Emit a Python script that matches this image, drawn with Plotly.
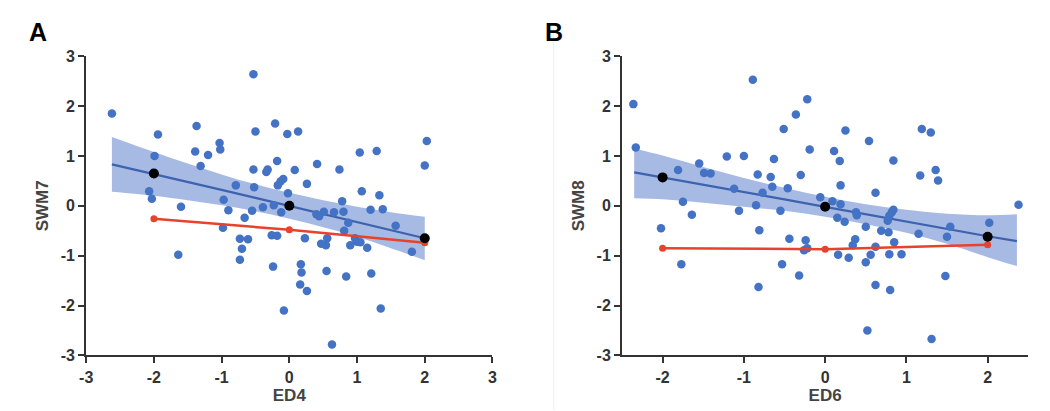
import plotly.graph_objects as go

# ---------------- Panel A data (ED4 vs SWM7) ----------------
a_x = [-2.62, -0.53, -1.94, -1.37, -1.99, -1.39, -1.20, -1.03, -1.02, -1.31,
       -0.50, -0.21, -0.03, 0.13, -0.18, -0.53, -0.34, -0.32, -0.09, -0.13,
       -0.17, -0.79, -0.52, -0.02, -2.07, -2.03, -0.97, -1.60, 2.03, 2.00,
       1.04, 1.29, 0.41, 0.08, 0.74, 0.26, 1.07, 1.33, 0.78, -0.90,
       -0.55, -0.39, -0.23, -0.12, -0.66, -0.98, -0.73, -0.61, -0.70, -0.73,
       -0.26, -0.18, -0.24, -1.64, -0.08, 0.40, 0.44, 0.51, 0.66, 0.80,
       1.20, 1.38, 0.87, 1.57, 0.81, 0.23, 0.56, 0.47, 0.54, 0.97,
       1.00, 1.05, 0.90, 1.15, 1.81, 0.17, 0.18, 0.16, 0.26, 0.55,
       0.84, 1.21, 1.35, 0.63]
a_y = [1.85, 2.64, 1.43, 1.60, 1.00, 1.09, 1.02, 1.26, 1.13, 0.80,
       1.49, 1.65, 1.44, 1.49, 0.90, 0.73, 0.68, 0.73, 0.54, 0.49,
       0.41, 0.41, 0.37, 0.25, 0.29, 0.14, 0.12, -0.02, 1.30, 0.81,
       1.07, 1.10, 0.84, 0.72, 0.73, 0.44, 0.29, 0.21, 0.09, -0.09,
       -0.10, -0.03, 0.01, -0.13, -0.24, -0.44, -0.66, -0.67, -0.86, -1.08,
       -0.59, -0.60, -1.22, -0.98, -2.10, -0.17, -0.21, -0.12, -0.13, -0.12,
       -0.08, -0.07, -0.34, -0.40, -0.50, -0.65, -0.65, -0.76, -0.79, -0.65,
       -0.72, -0.73, -0.79, -0.84, -0.92, -1.17, -1.34, -1.58, -1.71, -1.31,
       -1.42, -1.36, -2.06, -2.78]

a_band_x = [-2.62, -2.0, -1.5, -1.0, -0.5, 0.0, 0.5, 1.0, 1.5, 2.0]
a_fit = [0.83, 0.64, 0.48, 0.32, 0.16, 0.0, -0.16, -0.32, -0.49, -0.65]
a_upper = [1.38, 1.08, 0.85, 0.63, 0.43, 0.26, 0.11, -0.02, -0.13, -0.22]
a_lower = [0.28, 0.20, 0.11, 0.01, -0.11, -0.26, -0.43, -0.62, -0.85, -1.09]

a_key_x = [-2, 0, 2]
a_black = [0.65, 0.0, -0.65]
a_red = [-0.26, -0.48, -0.74]

# ---------------- Panel B data (ED6 vs SWM8) ----------------
b_x = [-2.36, -2.33, -0.89, -0.22, -0.36, -0.51, -0.19, -1.21, -1.00, -0.63,
       -1.55, -1.81, -1.49, -1.41, -0.83, -0.67, -0.30, -1.12, -0.65, -0.46,
       -0.77, -1.75, -0.85, 0.25, 1.19, 1.30, 0.54, 0.11, 0.18, 0.84,
       1.36, 1.17, 1.39, 0.19, 0.62, -0.06, 0.09, 0.19, 2.38, -1.64,
       -1.06, -0.55, -2.02, -0.81, -0.44, -0.24, -0.22, -0.26, -1.77, -0.53,
       -0.32, -0.82, 0.15, 0.24, 0.38, 0.39, 0.50, 0.69, 0.78, 0.77,
       0.79, 0.82, 0.84, 0.37, 0.34, 0.62, 0.85, 0.16, 0.29, 0.56,
       0.50, 0.79, 0.94, 1.15, 1.54, 1.50, 2.02, 1.48, 0.62, 0.80,
       0.52, 1.31]
b_y = [2.04, 1.17, 2.53, 2.14, 1.83, 1.54, 1.13, 0.99, 1.00, 0.94,
       0.85, 0.72, 0.66, 0.65, 0.63, 0.58, 0.62, 0.34, 0.38, 0.35,
       0.26, 0.08, 0.01, 1.51, 1.54, 1.47, 1.30, 1.10, 0.90, 0.91,
       0.72, 0.61, 0.51, 0.41, 0.26, 0.17, 0.09, 0.03, 0.02, -0.18,
       -0.10, -0.10, -0.45, -0.49, -0.66, -0.69, -0.85, -0.89, -1.17, -1.17,
       -1.40, -1.63, -0.24, -0.32, -0.13, -0.19, -0.42, -0.50, -0.53, -0.30,
       -0.20, -0.13, -0.08, -0.67, -0.79, -0.82, -0.73, -0.98, -1.04, -0.98,
       -1.13, -0.97, -0.97, -0.56, -0.42, -0.62, -0.34, -1.41, -1.59, -1.69,
       -2.50, -2.67]

b_band_x = [-2.35, -2.0, -1.5, -1.0, -0.5, 0.0, 0.5, 1.0, 1.5, 2.0, 2.36]
b_fit = [0.67, 0.57, 0.42, 0.27, 0.13, -0.02, -0.17, -0.31, -0.46, -0.61, -0.71]
b_upper = [1.15, 1.01, 0.78, 0.56, 0.36, 0.18, 0.03, -0.08, -0.16, -0.19, -0.17]
b_lower = [0.15, 0.13, 0.06, -0.02, -0.10, -0.22, -0.37, -0.54, -0.76, -1.03, -1.21]

b_key_x = [-2, 0, 2]
b_black = [0.57, -0.02, -0.62]
b_red = [-0.85, -0.87, -0.78]

# ---------------- ticks / labels ----------------
y_ticks = [-3, -2, -1, 0, 1, 2, 3]
y_tick_text = ["-3", "-2", "-1", "0", "1", "2", "3"]
a_x_ticks = [-3, -2, -1, 0, 1, 2, 3]
a_x_tick_text = ["-3", "-2", "-1", "0", "1", "2", "3"]
b_x_ticks = [-2, -1, 0, 1, 2]
b_x_tick_text = ["-2", "-1", "0", "1", "2"]


def bold(labels):
    return ["<b>" + t + "</b>" for t in labels]


BLUE = "#4472C4"
LINE_BLUE = "#3D62AE"
BAND = "rgba(95,130,205,0.55)"
RED = "#E8412C"

fig = go.Figure()


def add_panel(xa, ya, px, py, bx, fit, up, lo, kx, black, red):
    fig.add_trace(go.Scatter(x=bx, y=up, mode="lines", line=dict(width=0, shape="spline"),
                             xaxis=xa, yaxis=ya, hoverinfo="skip", showlegend=False))
    fig.add_trace(go.Scatter(x=bx, y=lo, mode="lines", line=dict(width=0, shape="spline"),
                             fill="tonexty", fillcolor=BAND,
                             xaxis=xa, yaxis=ya, hoverinfo="skip", showlegend=False))
    fig.add_trace(go.Scatter(x=bx, y=fit, mode="lines", line=dict(color=LINE_BLUE, width=2.2),
                             xaxis=xa, yaxis=ya, showlegend=False))
    fig.add_trace(go.Scatter(x=px, y=py, mode="markers",
                             marker=dict(color=BLUE, size=8.5, line=dict(width=0)),
                             xaxis=xa, yaxis=ya, showlegend=False))
    fig.add_trace(go.Scatter(x=kx, y=red, mode="lines+markers",
                             line=dict(color=RED, width=2.5),
                             marker=dict(color=RED, size=7),
                             xaxis=xa, yaxis=ya, showlegend=False))
    fig.add_trace(go.Scatter(x=kx, y=black, mode="markers",
                             marker=dict(color="black", size=10),
                             xaxis=xa, yaxis=ya, showlegend=False))


add_panel("x", "y", a_x, a_y, a_band_x, a_fit, a_upper, a_lower, a_key_x, a_black, a_red)
add_panel("x2", "y2", b_x, b_y, b_band_x, b_fit, b_upper, b_lower, b_key_x, b_black, b_red)

W, H = 1050, 411
FONT = "Liberation Sans, Arial, sans-serif"
tickfont = dict(family=FONT, size=16, color="#333333")
titlefont = dict(family=FONT, size=17, color="#444444")
axis_common = dict(showline=True, linecolor="#333333", linewidth=2, ticks="outside",
                   ticklen=6, tickwidth=2, tickcolor="#333333", showgrid=False,
                   zeroline=False, tickfont=tickfont, mirror=False)

ydom = [(H - 354) / H, (H - 42) / H]

fig.update_layout(
    width=W, height=H,
    margin=dict(l=0, r=0, t=0, b=0),
    paper_bgcolor="white", plot_bgcolor="white",
    xaxis=dict(domain=[72 / W, 483 / W], range=[-3, 3], tickvals=a_x_ticks,
               ticktext=bold(a_x_tick_text), anchor="y",
               title=dict(text="<b>ED4</b>", font=titlefont, standoff=4), **axis_common),
    yaxis=dict(domain=ydom, range=[-3, 3], tickvals=y_ticks, ticktext=bold(y_tick_text),
               anchor="x", title=dict(text="<b>SWM7</b>", font=titlefont, standoff=8), **axis_common),
    xaxis2=dict(domain=[614 / W, 1025 / W], range=[-2.5, 2.5], tickvals=b_x_ticks,
                ticktext=bold(b_x_tick_text), anchor="y2",
                title=dict(text="<b>ED6</b>", font=titlefont, standoff=4), **axis_common),
    yaxis2=dict(domain=ydom, range=[-3, 3], tickvals=y_ticks, ticktext=bold(y_tick_text),
                anchor="x2", title=dict(text="<b>SWM8</b>", font=titlefont, standoff=8), **axis_common),
    annotations=[
        dict(text="<b>A</b>", x=12 / W, y=1 - 17 / H, xref="paper", yref="paper",
             xanchor="left", yanchor="middle", showarrow=False,
             font=dict(family=FONT, size=25, color="black")),
        dict(text="<b>B</b>", x=534 / W, y=1 - 17 / H, xref="paper", yref="paper",
             xanchor="left", yanchor="middle", showarrow=False,
             font=dict(family=FONT, size=25, color="black")),
    ],
    shapes=[dict(type="line", xref="paper", yref="paper", x0=545 / W, x1=545 / W,
                 y0=0, y1=1 - 12 / H, line=dict(color="#eeeeee", width=1))],
)

fig.write_html("out.html")
